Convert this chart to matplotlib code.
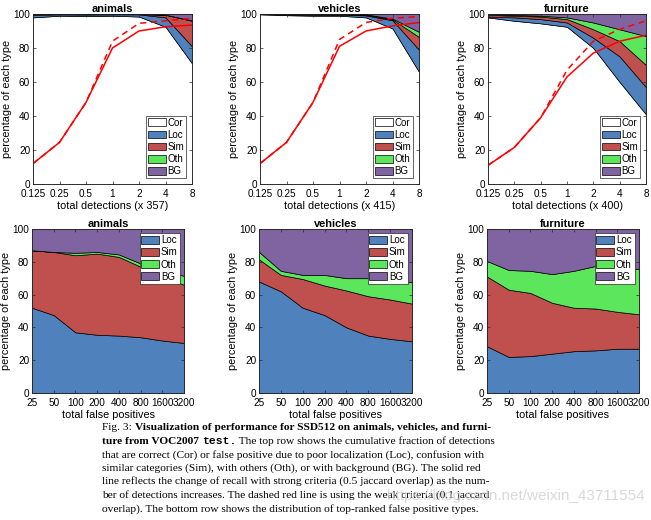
import matplotlib
matplotlib.use('Agg')
import matplotlib.pyplot as plt
from matplotlib.patches import Patch

plt.rcParams['font.family'] = ['Liberation Sans', 'DejaVu Sans']

# x axes
det_x = [0.125, 0.25, 0.5, 1, 2, 4, 8]
det_labels = ['0.125', '0.25', '0.5', '1', '2', '4', '8']
fp_x = [25, 50, 100, 200, 400, 800, 1600, 3200]
fp_labels = ['25', '50', '100', '200', '400', '800', '1600', '3200']

categories = ['animals', 'vehicles', 'furniture']
n_dets = [357, 415, 400]

# top row: cumulative upper boundaries of Cor, Loc, Sim, Oth (BG goes to 100)
animals_cor = [98, 99, 98.8, 99, 98.5, 92.5, 71]
animals_loc = [99.5, 99.8, 99.7, 99.8, 99.8, 98, 81]
animals_sim = [100, 100, 100, 100, 100, 99.5, 96]
animals_oth = [100, 100, 100, 100, 100, 99.6, 96.2]
animals_rec = [12, 24.5, 48, 80, 90, 92.5, 93.5]
animals_rec_weak = [12, 24.5, 48, 84, 94.5, 96, 97.5]

vehicles_cor = [99.8, 99.3, 99, 99, 98, 91.5, 66]
vehicles_loc = [100, 99.8, 99.6, 99.5, 99.2, 96.3, 79]
vehicles_sim = [100, 100, 100, 100, 99.6, 96.8, 86.5]
vehicles_oth = [100, 100, 100, 100, 99.8, 97.3, 89.5]
vehicles_rec = [12, 24.5, 48, 81, 90, 93, 95]
vehicles_rec_weak = [12, 24.5, 48, 85, 95, 97.5, 98.5]

furniture_cor = [98, 96, 94.5, 92.5, 80, 60, 41]
furniture_loc = [98.5, 98, 97, 95, 86, 75, 57]
furniture_sim = [99.5, 99, 98.5, 97, 91, 84, 70]
furniture_oth = [100, 99.5, 99, 98, 95, 91, 87]
furniture_rec = [11, 21.5, 39, 63, 77, 84, 87.5]
furniture_rec_weak = [11, 21.5, 39, 67, 84, 91, 96]

# bottom row: cumulative upper boundaries of Loc, Sim, Oth (BG goes to 100)
animals_fp_loc = [52, 47.5, 37, 35.5, 35, 34, 32, 30.5]
animals_fp_sim = [87, 86, 84, 85, 83, 77, 71, 66]
animals_fp_oth = [87, 86, 85.5, 86, 84.5, 79, 74, 71.5]

vehicles_fp_loc = [68, 62, 52, 47.5, 40, 35, 33, 31.5]
vehicles_fp_sim = [81.5, 72, 69.5, 65.5, 62.5, 59, 57, 54.5]
vehicles_fp_oth = [86, 74.5, 72, 72, 70, 70, 68.5, 67.5]

furniture_fp_loc = [28.5, 22, 22.5, 24, 25.5, 26, 27, 27]
furniture_fp_sim = [71, 63, 61, 55, 52, 51.5, 49.5, 48]
furniture_fp_oth = [80.5, 75, 74.5, 72.5, 74.5, 77.5, 76.5, 75.5]

top_data = [
    (animals_cor, animals_loc, animals_sim, animals_oth, animals_rec, animals_rec_weak),
    (vehicles_cor, vehicles_loc, vehicles_sim, vehicles_oth, vehicles_rec, vehicles_rec_weak),
    (furniture_cor, furniture_loc, furniture_sim, furniture_oth, furniture_rec, furniture_rec_weak),
]
bottom_data = [
    (animals_fp_loc, animals_fp_sim, animals_fp_oth),
    (vehicles_fp_loc, vehicles_fp_sim, vehicles_fp_oth),
    (furniture_fp_loc, furniture_fp_sim, furniture_fp_oth),
]

c_cor = 'white'
c_loc = '#4f81bd'
c_sim = '#c0504d'
c_oth = '#5ce65c'
c_bg = '#8064a2'

W, H = 651, 520
fig = plt.figure(figsize=(6.51, 5.20), dpi=100)

top_rects = [(33, 14, 159, 170), (260, 14, 159, 170), (488, 14, 158, 170)]
bot_rects = [(32, 229, 152, 164), (259, 229, 153, 164), (487, 229, 152, 164)]

tick_fs = 7.2
label_fs = 7.8
title_fs = 7.9
leg_fs = 7


def px_axes(r):
    x, y, w, h = r
    return fig.add_axes([x / W, 1 - (y + h) / H, w / W, h / H])


def style(ax):
    ax.tick_params(direction='in', top=True, right=True, labelsize=tick_fs,
                   length=2.5, width=0.5, pad=2, color='#262626')
    ax.tick_params(axis='x', pad=3.5)
    for s in ax.spines.values():
        s.set_linewidth(0.5)
        s.set_color('#262626')
    ax.set_ylim(0, 100)
    ax.set_yticks([0, 20, 40, 60, 80, 100])
    ax.set_ylabel('percentage of each type', fontsize=label_fs, labelpad=1)


def add_legend(ax, colors, names, where, pad):
    handles = [Patch(facecolor=c, edgecolor='black', linewidth=0.5) for c in colors]
    leg = ax.legend(handles, names, loc=where, fontsize=leg_fs,
                    handlelength=1.8, handleheight=0.85, handletextpad=0.2,
                    labelspacing=0.22, borderpad=0.2, borderaxespad=pad,
                    fancybox=False, framealpha=1)
    leg.get_frame().set_edgecolor('#262626')
    leg.get_frame().set_linewidth(0.5)


for i, cat in enumerate(categories):
    cor, loc, sim, oth, rec, rec_w = top_data[i]
    ax = px_axes(top_rects[i])
    ek = dict(edgecolor='black', linewidth=0.5)
    ax.fill_between(det_x, 0, cor, facecolor=c_cor, **ek)
    ax.fill_between(det_x, cor, loc, facecolor=c_loc, **ek)
    ax.fill_between(det_x, loc, sim, facecolor=c_sim, **ek)
    ax.fill_between(det_x, sim, oth, facecolor=c_oth, **ek)
    ax.fill_between(det_x, oth, 100, facecolor=c_bg, **ek)
    ax.plot(det_x, rec, color='red', linewidth=1.1)
    ax.plot(det_x, rec_w, color='red', linewidth=1.1, linestyle=(0, (4, 3)))
    ax.set_xscale('log', base=2)
    ax.set_xlim(0.125, 8)
    ax.set_xticks(det_x)
    ax.set_xticklabels(det_labels)
    ax.minorticks_off()
    style(ax)
    ax.set_xlabel('total detections (x %d)' % n_dets[i], fontsize=label_fs, labelpad=1.5)
    ax.set_title(cat, fontsize=title_fs, fontweight='bold', pad=1.5)
    add_legend(ax, [c_cor, c_loc, c_sim, c_oth, c_bg],
               ['Cor', 'Loc', 'Sim', 'Oth', 'BG'], 'lower right', 0.6)

for i, cat in enumerate(categories):
    loc, sim, oth = bottom_data[i]
    ax = px_axes(bot_rects[i])
    ek = dict(edgecolor='black', linewidth=0.5)
    ax.fill_between(fp_x, 0, loc, facecolor=c_loc, **ek)
    ax.fill_between(fp_x, loc, sim, facecolor=c_sim, **ek)
    ax.fill_between(fp_x, sim, oth, facecolor=c_oth, **ek)
    ax.fill_between(fp_x, oth, 100, facecolor=c_bg, **ek)
    ax.set_xscale('log', base=2)
    ax.set_xlim(25, 3200)
    ax.set_xticks(fp_x)
    ax.set_xticklabels(fp_labels)
    ax.minorticks_off()
    style(ax)
    ax.set_xlabel('total false positives', fontsize=label_fs, labelpad=1.5)
    ax.set_title(cat, fontsize=title_fs, fontweight='bold', pad=1.5)
    add_legend(ax, [c_loc, c_sim, c_oth, c_bg], ['Loc', 'Sim', 'Oth', 'BG'], 'upper right', 0.45)

# caption (mixed styles, placed piece by piece)
serif = 'Liberation Serif'
mono = 'Liberation Mono'
cap_lines = [
    [('Fig. 3: ', serif, 'normal'),
     ('Visualization of performance for SSD512 on animals, vehicles, and furni-', serif, 'bold')],
    [('ture from VOC2007 ', serif, 'bold'), ('test.', mono, 'bold'),
     (' The top row shows the cumulative fraction of detections', serif, 'normal')],
    [('that are correct (Cor) or false positive due to poor localization (Loc), confusion with', serif, 'normal')],
    [('similar categories (Sim), with others (Oth), or with background (BG). The solid red', serif, 'normal')],
    [('line reflects the change of recall with strong criteria (0.5 jaccard overlap) as the num-', serif, 'normal')],
    [('ber of detections increases. The dashed red line is using the weak criteria (0.1 jaccard', serif, 'normal')],
    [('overlap). The bottom row shows the distribution of top-ranked false positive types.', serif, 'normal')],
]
renderer = fig.canvas.get_renderer()
cap_y = [427, 441, 455, 468, 481, 495, 509]
for line, yy in zip(cap_lines, cap_y):
    x = 102
    for txt, fam, wt in line:
        t = fig.text(x / W, 1 - yy / H, txt, fontsize=8.2, family=fam,
                     fontweight=wt, va='center', ha='left')
        bb = t.get_window_extent(renderer)
        x += bb.width

fig.text(645 / W, 1 - 496 / H, 'https://blog.csdn.net/weixin_43711554',
         fontsize=11, color='#d0d0d0', alpha=0.8, ha='right', va='center')

fig.savefig('out.png', dpi=100)
